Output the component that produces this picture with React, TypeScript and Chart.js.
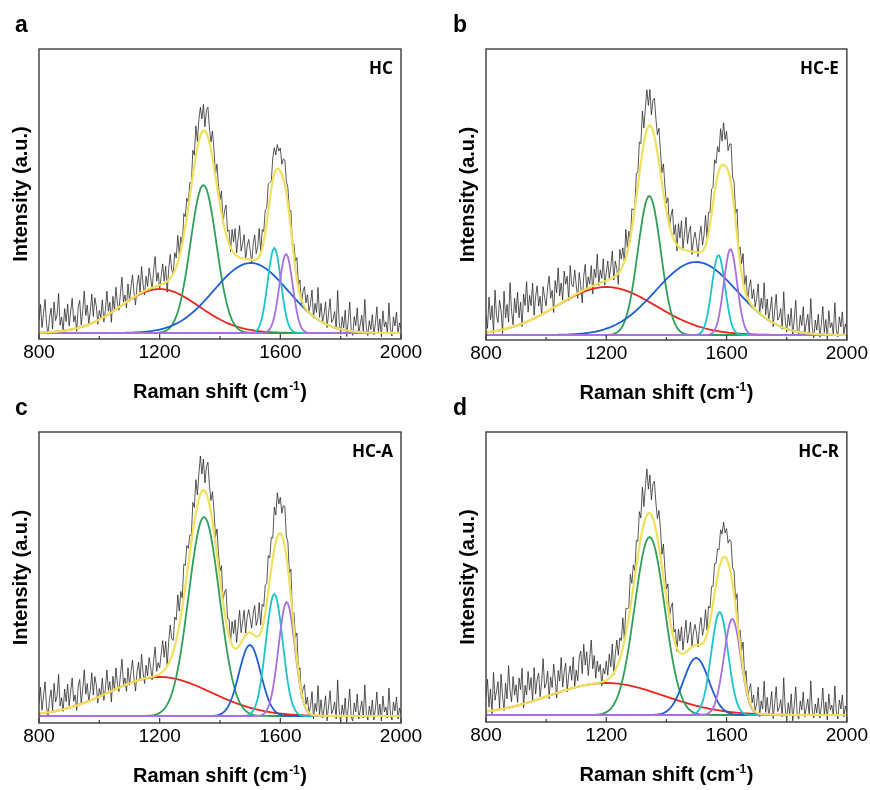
import React, { useEffect, useRef } from 'react';
import { Chart, registerables } from 'chart.js';

Chart.register(...registerables);

// ---------- data ----------
const X_MIN = 800;
const X_MAX = 2000;
const X_STEP = 5;
const tickStep = 200;
const majorTicks = [800, 1200, 1600, 2000];

const panelLetters = ['a', 'b', 'c', 'd'];
const sampleNames = ['HC', 'HC-E', 'HC-A', 'HC-R'];
const xTitleMain = 'Raman shift (cm';
const xTitleSup = '-1';
const yTitle = 'Intensity (a.u.)';

// fitted peaks: [broad ~1200, D ~1345, ~1500, G ~1580, D' ~1620]
const centersA = [1200, 1345, 1502, 1580, 1619];
const heightsA = [44, 148, 70, 85, 79];
const sigmasA = [130, 43, 123, 22, 22];

const centersB = [1200, 1343, 1499, 1573, 1613];
const heightsB = [48, 139, 73, 80, 86];
const sigmasB = [165, 38, 135, 22, 22];

const centersC = [1200, 1347, 1499, 1580, 1621];
const heightsC = [39, 199, 71, 122, 114];
const sigmasC = [170, 51, 36, 28, 27];

const centersD = [1200, 1344, 1499, 1577, 1619];
const heightsD = [32, 178, 57, 103, 96];
const sigmasD = [190, 50, 42, 28, 28];

// measured spectrum minus fit (residual), every 5 cm-1 from 800 to 2000
const residA = [
  12,28,5,19,33,8,-2,15,24,3,30,11,17,38,6,14,0,22,9,26,
  4,18,31,7,13,-3,21,27,2,16,35,10,20,1,12,29,6,24,15,-4,
  9,1,18,-5,6,24,3,11,-10,15,0,22,5,-3,13,28,2,8,-6,17,
  -1,12,23,4,-9,10,19,1,26,7,-4,14,3,21,11,-2,17,30,5,13,
  -5,8,20,2,16,-11,11,24,6,0,18,9,27,3,14,-2,22,10,19,5,
  14,3,25,10,30,6,21,28,13,26,4,23,30,15,8,27,18,2,22,9,
  5,22,-2,17,29,8,14,-4,21,11,26,3,18,32,7,15,24,-1,13,20,
  9,-3,16,25,6,12,28,1,19,10,23,14,27,17,8,22,26,15,24,18,
  23,10,20,25,12,16,5,19,-2,13,8,22,3,15,-4,12,20,6,16,1,
  10,25,-2,14,6,32,3,18,0,9,22,-3,12,27,4,8,16,-1,38,7,
  -5,13,2,20,-6,10,29,1,-4,15,6,24,-2,8,17,0,33,5,-3,12,
  3,18,-2,9,26,1,14,-4,22,6,11,0,30,4,-3,16,7,21,-1,10,
  4,
];
const residB = [
  18,4,35,12,26,-2,41,15,8,30,20,-4,38,11,24,6,45,16,2,28,
  13,33,7,22,-3,29,17,40,9,25,14,36,3,21,31,10,19,-1,27,15,
  6,24,34,11,18,-5,26,13,37,8,20,2,30,16,23,-2,32,12,9,25,
  9,-5,20,6,-12,14,25,-1,11,3,21,-8,16,7,30,-2,13,4,23,-4,
  8,19,1,12,27,-3,15,6,-11,22,10,18,0,28,4,14,-4,20,9,2,
  24,13,32,19,41,15,28,40,21,36,12,30,38,25,18,34,22,10,29,16,
  8,21,-2,15,27,5,18,-6,23,10,28,1,16,33,7,19,25,-3,12,20,
  11,-4,17,26,6,14,30,2,21,12,25,16,33,20,29,18,38,24,42,26,
  36,20,32,40,17,25,8,27,-1,16,10,29,4,19,-3,14,24,7,18,2,
  12,28,-1,16,7,34,3,20,0,11,25,-4,13,30,5,9,18,-2,36,8,
  -3,15,4,22,-5,12,31,2,-2,17,7,26,-1,10,19,1,35,6,-4,14,
  4,20,-3,10,28,2,15,-5,24,7,12,0,32,5,-2,18,8,23,0,11,
  5,
];
const residC = [
  10,26,3,17,31,6,-4,13,22,1,28,9,15,36,4,12,-2,20,7,24,
  2,16,29,5,11,-5,19,25,0,14,33,8,18,-1,10,27,4,22,13,-6,
  8,0,17,-6,5,23,2,10,-11,14,-1,21,4,-4,12,27,1,7,-7,16,
  -2,11,22,3,-10,9,18,0,25,6,-5,13,2,20,10,-3,16,29,4,12,
  6,19,31,13,27,0,22,35,17,11,29,20,38,14,25,9,33,21,30,16,
  18,7,29,14,33,10,25,38,17,31,8,27,36,19,12,30,22,6,26,13,
  8,25,1,20,32,11,17,-1,24,14,29,6,21,35,10,18,27,2,16,23,
  14,5,21,30,11,17,33,8,24,15,28,19,36,22,31,20,42,27,44,30,
  36,22,34,40,19,26,9,28,-1,17,8,27,2,16,-5,10,20,4,14,-1,
  8,23,-4,12,4,30,1,16,-2,7,20,-5,10,25,2,6,14,-3,36,5,
  -6,11,0,18,-7,8,27,-1,-5,13,4,22,-3,6,15,-2,31,3,-4,10,
  1,16,-4,7,24,-1,12,-5,20,4,9,-2,28,2,-4,14,5,19,-3,8,
  2,
];
const residD = [
  14,32,4,22,-3,38,10,19,28,1,35,13,-2,25,9,42,17,5,30,11,
  21,3,27,15,36,-4,18,8,31,12,24,-1,33,6,20,26,2,16,39,9,
  13,25,-3,18,7,30,15,-5,22,11,34,4,19,27,-2,14,23,8,31,1,
  17,6,29,35,12,41,20,33,9,26,44,15,28,5,22,11,18,-4,13,7,
  19,4,24,10,31,-2,16,27,8,21,13,30,2,25,17,9,33,14,22,6,
  26,15,35,20,43,17,32,46,24,38,15,34,42,27,19,36,28,12,33,18,
  9,24,0,18,30,7,15,-3,22,12,27,4,19,32,8,16,26,1,14,21,
  12,-2,18,27,8,14,29,4,22,13,26,17,30,21,27,19,33,25,35,24,
  30,19,28,33,16,23,6,25,-2,15,7,27,1,17,-4,11,21,5,15,0,
  9,26,-3,13,5,33,2,17,-1,8,23,-4,11,28,3,7,15,-2,37,6,
  -5,12,1,21,-6,9,28,0,-4,14,5,23,-2,7,16,-1,34,4,-3,11,
  2,17,-3,8,27,0,13,-5,21,5,10,-1,29,3,-4,15,6,20,-2,9,
  3,
];

const yMins = [-6, -5, -7, -7];
const yMaxs = [284, 286, 284, 283];

const centersAll = [centersA, centersB, centersC, centersD];
const heightsAll = [heightsA, heightsB, heightsC, heightsD];
const sigmasAll = [sigmasA, sigmasB, sigmasC, sigmasD];
const residAll = [residA, residB, residC, residD];

// ---------- styles / layout ----------
const componentColors = ['#e8251f', '#2f9f57', '#1f5fd2', '#1cc4c8', '#a86ee2'];
const fitColor = '#efe15a';
const spectrumColor = 'rgba(35,35,35,0.85)';

const W = 870;
const H = 790;
const areas = [
  { left: 39, top: 49, right: 401, bottom: 339 },
  { left: 486, top: 49, right: 847, bottom: 340 },
  { left: 39, top: 432, right: 401, bottom: 723 },
  { left: 486, top: 432, right: 847, bottom: 722 },
];
const letterX = [15, 453, 15, 453];

const decorPlugin = {
  id: 'panelDecor',
  afterDraw(chart: any, _args: any, opts: any) {
    const { ctx, chartArea } = chart;
    const { left, top, right, bottom } = chartArea;
    const xs = chart.scales.x;
    ctx.save();
    // frame
    ctx.strokeStyle = '#3a3a3a';
    ctx.lineWidth = 1.4;
    ctx.strokeRect(left, top, right - left, bottom - top);
    // inward ticks
    ctx.lineWidth = 1.2;
    for (let v = X_MIN; v <= X_MAX; v += tickStep) {
      const px = xs.getPixelForValue(v);
      const len = majorTicks.includes(v) ? 5 : 3;
      ctx.beginPath();
      ctx.moveTo(px, bottom);
      ctx.lineTo(px, bottom - len);
      ctx.stroke();
    }
    ctx.fillStyle = '#000';
    // panel letter
    ctx.font = 'bold 23px "Liberation Sans", Arial, sans-serif';
    ctx.textAlign = 'left';
    ctx.textBaseline = 'alphabetic';
    ctx.fillText(opts.letter, opts.letterX, top - 17);
    // sample name
    ctx.font = 'bold 17px "Noto Sans", "Open Sans", sans-serif';
    ctx.textAlign = 'right';
    ctx.fillText(opts.sample, right - 8, top + 25);
    // y title
    ctx.save();
    ctx.translate(left - 18, (top + bottom) / 2);
    ctx.rotate(-Math.PI / 2);
    ctx.font = 'bold 20px "Liberation Sans", Arial, sans-serif';
    ctx.textAlign = 'center';
    ctx.textBaseline = 'middle';
    ctx.fillText(yTitle, 0, 0);
    ctx.restore();
    // x title with superscript
    const mainFont = 'bold 20px "Liberation Sans", Arial, sans-serif';
    const supFont = 'bold 12px "Liberation Sans", Arial, sans-serif';
    ctx.font = mainFont;
    const w1 = ctx.measureText(xTitleMain).width;
    const w3 = ctx.measureText(')').width;
    ctx.font = supFont;
    const w2 = ctx.measureText(xTitleSup).width;
    const total = w1 + w2 + w3 + 1;
    const x0 = (left + right) / 2 - total / 2;
    const base = bottom + 59;
    ctx.textAlign = 'left';
    ctx.textBaseline = 'alphabetic';
    ctx.font = mainFont;
    ctx.fillText(xTitleMain, x0, base);
    ctx.font = supFont;
    ctx.fillText(xTitleSup, x0 + w1 + 0.5, base - 8);
    ctx.font = mainFont;
    ctx.fillText(')', x0 + w1 + w2 + 1, base);
    ctx.restore();
  },
};

function buildDatasets(idx: number) {
  const centers = centersAll[idx];
  const heights = heightsAll[idx];
  const sigmas = sigmasAll[idx];
  const resid = residAll[idx];
  const n = Math.round((X_MAX - X_MIN) / X_STEP) + 1;
  const xs: number[] = [];
  for (let i = 0; i < n; i++) xs.push(X_MIN + i * X_STEP);
  const comps = centers.map((c, k) =>
    xs.map((x) => ({ x, y: heights[k] * Math.exp(-((x - c) * (x - c)) / (2 * sigmas[k] * sigmas[k])) }))
  );
  const fit = xs.map((x, i) => ({ x, y: comps.reduce((s, cp) => s + cp[i].y, 0) }));
  const spectrum = xs
    .slice(0, Math.min(n, resid.length))
    .map((x, i) => ({ x, y: fit[i].y + resid[i] }));

  const base = { pointRadius: 0, fill: false, tension: 0 };
  const datasets: any[] = [
    { ...base, label: 'spectrum', data: spectrum, borderColor: spectrumColor, borderWidth: 0.9, order: 10 },
  ];
  comps.forEach((cp, k) => {
    datasets.push({
      ...base,
      label: 'peak' + k,
      data: cp,
      borderColor: componentColors[k],
      borderWidth: 1.8,
      order: 7 - k,
    });
  });
  datasets.push({ ...base, label: 'fit', data: fit, borderColor: fitColor, borderWidth: 2.2, order: 1 });
  return datasets;
}

function Panel({ idx }: { idx: number }) {
  const ref = useRef<HTMLCanvasElement | null>(null);
  useEffect(() => {
    const a = areas[idx];
    const chart = new Chart(ref.current as HTMLCanvasElement, {
      type: 'line',
      data: { datasets: buildDatasets(idx) },
      options: {
        animation: false,
        responsive: false,
        devicePixelRatio: 1,
        events: [],
        layout: { padding: { left: a.left, top: a.top, right: W - a.right, bottom: 0 } },
        plugins: {
          legend: { display: false },
          tooltip: { enabled: false },
          panelDecor: { letter: panelLetters[idx], sample: sampleNames[idx], letterX: letterX[idx] },
        } as any,
        scales: {
          x: {
            type: 'linear',
            min: X_MIN,
            max: X_MAX,
            grid: { display: false, drawTicks: false },
            border: { display: false },
            ticks: {
              stepSize: tickStep,
              autoSkip: false,
              maxRotation: 0,
              padding: 2,
              color: '#000',
              font: { family: '"Liberation Sans", Arial, sans-serif', size: 19 },
              callback: (v: any) => (majorTicks.includes(Number(v)) ? String(v) : ''),
            },
            afterFit: (s: any) => {
              s.height = H - a.bottom;
            },
          },
          y: {
            display: false,
            min: yMins[idx],
            max: yMaxs[idx],
          },
        },
      },
      plugins: [decorPlugin],
    } as any);
    return () => chart.destroy();
  }, [idx]);
  return (
    <canvas
      ref={ref}
      width={W}
      height={H}
      style={{ position: 'absolute', left: 0, top: 0, width: W, height: H }}
    />
  );
}

export default function App() {
  return (
    <div style={{ position: 'absolute', left: 0, top: 0, width: W, height: H, background: '#fff' }}>
      {[0, 1, 2, 3].map((i) => (
        <Panel key={i} idx={i} />
      ))}
    </div>
  );
}
